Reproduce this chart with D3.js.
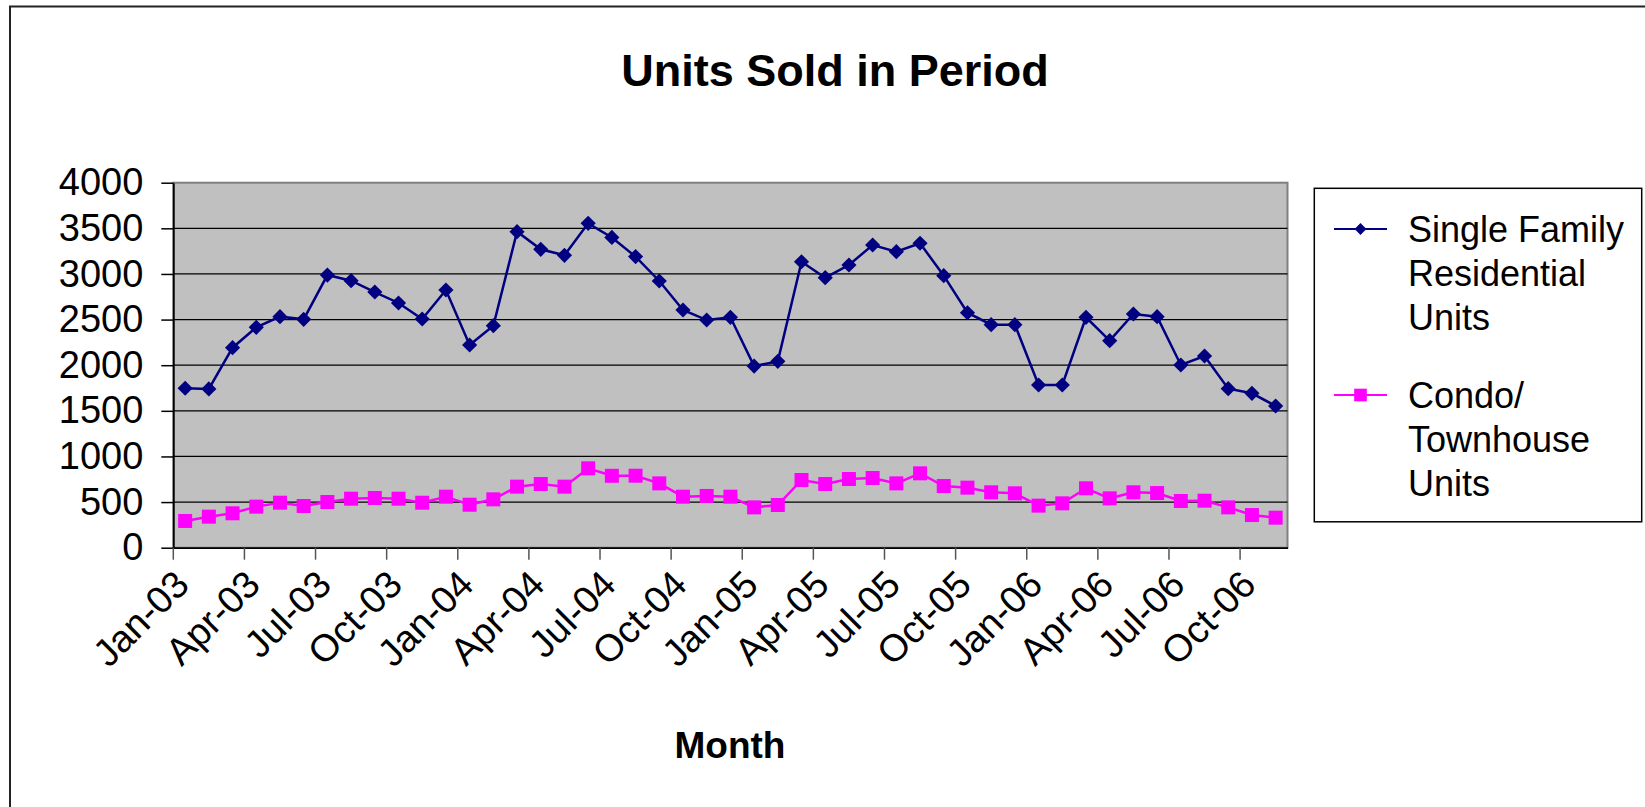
<!DOCTYPE html>
<html>
<head>
<meta charset="utf-8">
<script src="https://cdn.jsdelivr.net/npm/d3@7"></script>
<style>
body { margin: 0; background: #fff; }
svg { display: block; font-family: "Liberation Sans", Arial, sans-serif; }
</style>
</head>
<body>
<svg id="Chart"></svg>
<script>
let months = ["Jan-03","Feb-03","Mar-03","Apr-03","May-03","Jun-03","Jul-03","Aug-03","Sep-03","Oct-03","Nov-03","Dec-03",
    "Jan-04","Feb-04","Mar-04","Apr-04","May-04","Jun-04","Jul-04","Aug-04","Sep-04","Oct-04","Nov-04","Dec-04",
    "Jan-05","Feb-05","Mar-05","Apr-05","May-05","Jun-05","Jul-05","Aug-05","Sep-05","Oct-05","Nov-05","Dec-05",
    "Jan-06","Feb-06","Mar-06","Apr-06","May-06","Jun-06","Jul-06","Aug-06","Sep-06","Oct-06","Nov-06"]

let singleFamily = [1747, 1740, 2192, 2415, 2532, 2503, 2988, 2926, 2802, 2682, 2506, 2824,
    2221, 2433, 3463, 3270, 3204, 3555, 3400, 3190, 2923, 2605, 2495, 2525,
    1990, 2042, 3134, 2959, 3098, 3317, 3244, 3336, 2981, 2575, 2444, 2444,
    1783, 1783, 2525, 2269, 2561, 2532, 2002, 2101, 1743, 1692, 1553]

let condoTownhouse = [293, 340, 377, 450, 493, 457, 501, 537, 545, 537, 493, 559,
    471, 530, 669, 698, 669, 870, 788, 789, 705, 559, 567, 559,
    442, 468, 742, 698, 753, 764, 705, 815, 676, 658, 607, 596,
    461, 486, 651, 541, 607, 599, 512, 515, 442, 358, 329]

let yTicks = [0, 500, 1000, 1500, 2000, 2500, 3000, 3500, 4000]
let xTickLabels = months.filter((d, i) => i % 3 === 0)

let seriesNames = [["Single Family", "Residential", "Units"], ["Condo/", "Townhouse", "Units"]]
let seriesColors = ["#000080", "#ff00ff"]

let chartTitle = "Units Sold in Period"
let xTitle = "Month"

function getChartConfig(){
    let width = 1645
    let height = 807
    let plot = { left: 173.3, right: 1287.5, top: 182.7, bottom: 547.7 }
    let container = d3.select("#Chart")
        .attr("width", width)
        .attr("height", height)
    return { width, height, plot, container }
}

function getScales(config){
    let { plot } = config
    let xScale = d3.scaleBand()
        .domain(months)
        .range([plot.left, plot.right])
        .padding(0)
    let yScale = d3.scaleLinear()
        .domain([0, 4000])
        .range([plot.bottom, plot.top])
    return { xScale, yScale }
}

function drawFrame(config){
    let { container } = config
    // outer chart border (only left and top show in the picture)
    container.append("path")
        .attr("d", "M10,807V6.5H1645")
        .attr("fill", "none")
        .attr("stroke", "#222")
        .attr("stroke-width", 2)

    container.append("text")
        .attr("x", 835)
        .attr("y", 86)
        .attr("text-anchor", "middle")
        .attr("font-size", 45)
        .attr("font-weight", "bold")
        .text(chartTitle)

    container.append("text")
        .attr("x", 730)
        .attr("y", 758)
        .attr("text-anchor", "middle")
        .attr("font-size", 37)
        .attr("font-weight", "bold")
        .text(xTitle)
}

function drawPlotArea(scales, config){
    let { container, plot } = config
    let { yScale } = scales
    container.append("rect")
        .attr("x", plot.left)
        .attr("y", plot.top)
        .attr("width", plot.right - plot.left)
        .attr("height", plot.bottom - plot.top)
        .attr("fill", "#c0c0c0")
        .attr("stroke", "#808080")
        .attr("stroke-width", 2)

    container.append("g")
        .selectAll("line")
        .data(yTicks.filter(d => d > 0 && d < 4000))
        .enter().append("line")
        .attr("x1", plot.left)
        .attr("x2", plot.right)
        .attr("y1", d => yScale(d))
        .attr("y2", d => yScale(d))
        .attr("stroke", "#000")
        .attr("stroke-width", 1.2)
}

function drawAxes(scales, config){
    let { container, plot } = config
    let { xScale, yScale } = scales
    let bw = xScale.bandwidth()

    let axisY = d3.axisLeft(yScale)
        .tickValues(yTicks)
        .tickFormat(d3.format("d"))
        .tickSize(12)
        .tickSizeOuter(0)
        .tickPadding(18)
    let gy = container.append("g")
        .attr("transform", `translate(${plot.left},0)`)
        .call(axisY)
    gy.selectAll("text").attr("font-size", 38).attr("fill", "#000").attr("font-family", null)
    gy.selectAll("line").attr("stroke", "#000").attr("stroke-width", 1.5)
    gy.select(".domain").attr("stroke", "#000").attr("stroke-width", 1.8)

    let axisX = d3.axisBottom(xScale)
        .tickValues(xTickLabels)
        .tickSize(12)
        .tickSizeOuter(0)
    let gx = container.append("g")
        .attr("transform", `translate(0,${plot.bottom})`)
        .call(axisX)
    gx.selectAll(".tick line")
        .attr("transform", `translate(${-bw / 2},0)`)
        .attr("stroke", "#555")
        .attr("stroke-width", 1.5)
    gx.selectAll(".tick text")
        .attr("x", 0).attr("y", 0).attr("dy", 0)
        .attr("text-anchor", "end")
        .attr("transform", "translate(6,39) rotate(-45)")
        .attr("font-size", 38)
        .attr("font-family", null)
        .attr("fill", "#000")
    gx.select(".domain").attr("stroke", "#000").attr("stroke-width", 1.8)
}

function drawSeries(scales, config){
    let { container } = config
    let { xScale, yScale } = scales
    let bw = xScale.bandwidth()
    let cx = (d, i) => xScale(months[i]) + bw / 2

    let line = d3.line()
        .x(cx)
        .y(d => yScale(d))

    container.append("path")
        .datum(singleFamily)
        .attr("d", line)
        .attr("fill", "none")
        .attr("stroke", seriesColors[0])
        .attr("stroke-width", 2.5)

    container.append("g")
        .selectAll("path")
        .data(singleFamily)
        .enter().append("path")
        .attr("d", d3.symbol(d3.symbolSquare, 115))
        .attr("transform", (d, i) => `translate(${cx(d, i)},${yScale(d)}) rotate(45)`)
        .attr("fill", seriesColors[0])

    container.append("path")
        .datum(condoTownhouse)
        .attr("d", line)
        .attr("fill", "none")
        .attr("stroke", seriesColors[1])
        .attr("stroke-width", 2.5)

    container.append("g")
        .selectAll("path")
        .data(condoTownhouse)
        .enter().append("path")
        .attr("d", d3.symbol(d3.symbolSquare, 196))
        .attr("transform", (d, i) => `translate(${cx(d, i)},${yScale(d)})`)
        .attr("fill", seriesColors[1])
}

function drawLegend(config){
    let { container } = config
    let legend = container.append("g")
    legend.append("rect")
        .attr("x", 1314.3)
        .attr("y", 188.3)
        .attr("width", 327.4)
        .attr("height", 333.5)
        .attr("fill", "#fff")
        .attr("stroke", "#000")
        .attr("stroke-width", 1.5)

    let lineStep = 44
    let baselines = [242, 408]
    seriesNames.forEach((lines, k) => {
        let base = baselines[k]
        let sy = base - 13
        legend.append("line")
            .attr("x1", 1334).attr("x2", 1387)
            .attr("y1", sy).attr("y2", sy)
            .attr("stroke", seriesColors[k])
            .attr("stroke-width", 2)
        legend.append("path")
            .attr("d", k === 0 ? d3.symbol(d3.symbolSquare, 70)() : d3.symbol(d3.symbolSquare, 160)())
            .attr("transform", `translate(1360.5,${sy})` + (k === 0 ? " rotate(45)" : ""))
            .attr("fill", seriesColors[k])
        lines.forEach((t, j) => {
            legend.append("text")
                .attr("x", 1408)
                .attr("y", base + j * lineStep)
                .attr("font-size", 36)
                .text(t)
        })
    })
}

function drawChart(){
    let config = getChartConfig()
    let scales = getScales(config)
    drawFrame(config)
    drawPlotArea(scales, config)
    drawAxes(scales, config)
    drawSeries(scales, config)
    drawLegend(config)
}

drawChart()
</script>
</body>
</html>
